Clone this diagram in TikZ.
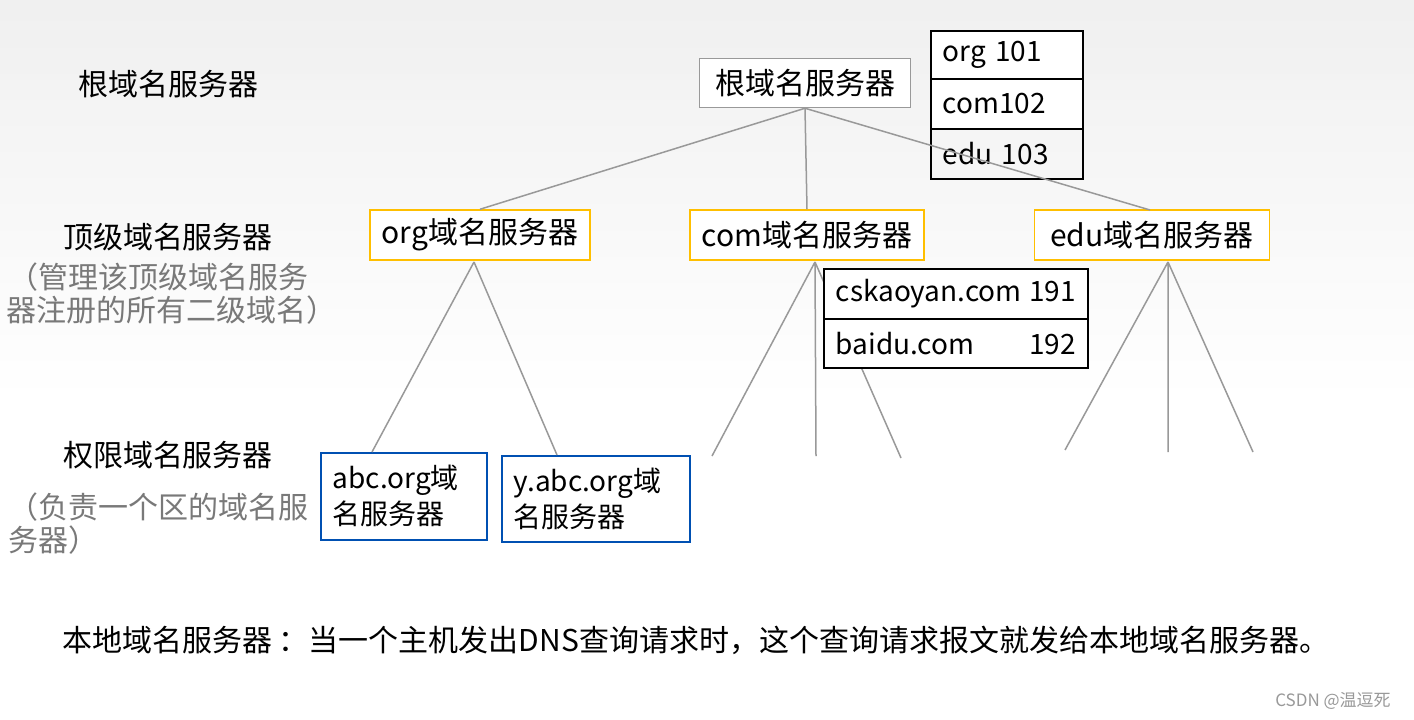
\documentclass[tikz,border=0pt]{standalone}
\usepackage{fontspec}
\setmainfont{Noto Sans CJK SC}
\begin{document}
\begin{tikzpicture}[x=1pt,y=-1pt,font=\fontsize{30}{36}\selectfont,
  lab/.style={anchor=center},
  glab/.style={anchor=west,text=gray!95!black,inner sep=0pt},
  root/.style={draw=gray!80,line width=1.5pt,fill=white,minimum width=211,minimum height=49,inner xsep=2pt},
  top/.style={draw=orange!50!yellow,line width=1.5pt,fill=white,minimum height=50,inner xsep=2pt},
  auth/.style={draw=blue!55!cyan!70!black,line width=1.5pt,fill=white,align=left,anchor=north west,inner xsep=12pt,inner ysep=4pt,text width=#1,font=\fontsize{28}{36}\selectfont},
  cell/.style={draw=black,line width=1.5pt,fill=white,anchor=north west,text width=#1,inner xsep=12pt,minimum height=50,font=\fontsize{28}{34}\selectfont},
  ln/.style={draw=gray!80,line width=1.5pt}]
\shade[top color=gray!12,bottom color=white] (0,0) rectangle (1414,400);
\fill[white] (0,400) rectangle (1414,720);
\useasboundingbox (0,0) rectangle (1414,720);
\node[lab] (l1) at (168,84) {根域名服务器};
\node[lab] (l2) at (168,237) {顶级域名服务器};
\node[glab] (g1) at (8,277) {（管理该顶级域名服务};
\node[glab] (g2) at (6,310) {器注册的所有二级域名）};
\node[lab] (l3) at (168,455) {权限域名服务器};
\node[glab] (g3) at (8,507) {（负责一个区的域名服};
\node[glab] (g4) at (8,540) {务器）};
\node[cell=128pt,minimum height=49] (t1) at (930,30) {org 101};
\node[cell=128pt,minimum height=50] (t2) at (930,78) {com102};
\node[cell=128pt,minimum height=50,fill=none] (t3) at (930,128) {edu 103};
\node[root] (r) at (805,83) {根域名服务器};
\node[top,minimum width=220] (org) at (480,235) {org域名服务器};
\node[top,minimum width=234] (com) at (807,235) {com域名服务器};
\node[top,minimum width=235] (edu) at (1152,235) {edu域名服务器};
\draw[ln] (r.south) -- (org.north);
\draw[ln] (r.south) -- (com.north);
\draw[ln] (r.south) -- (1150,210);
\coordinate (o0) at (474,262);
\node[auth=142pt,minimum width=166,minimum height=87] (abc) at (320,452) {abc.org域\\名服务器};
\node[auth=164pt,minimum width=188,minimum height=86] (yabc) at (501,455) {y.abc.org域\\名服务器};
\draw[ln] (o0) -- (372,452) (o0) -- (557,455);
\coordinate (c0) at (815,262);
\coordinate (c1) at (712,456); \coordinate (c2) at (816,456); \coordinate (c3) at (901,458);
\draw[ln] (c0) -- (c1) (c0) -- (c2) (c0) -- (c3);
\coordinate (e0) at (1168,262);
\coordinate (e1) at (1065,450); \coordinate (e2) at (1168,452); \coordinate (e3) at (1253,452);
\draw[ln] (e0) -- (e1) (e0) -- (e2) (e0) -- (e3);
\node[cell=240pt,minimum height=50] (s1) at (823,268) {cskaoyan.com\hfill 191\hspace*{10pt}};
\node[cell=240pt,minimum height=49] (s2) at (823,318) {baidu.com\hfill 192\hspace*{10pt}};
\node[anchor=west,inner sep=0pt] (b) at (62,640) {本地域名服务器 ：当一个主机发出DNS查询请求时，这个查询请求报文就发给本地域名服务器。};
\node[text=gray!80,font=\fontsize{17}{20}\selectfont] (w) at (1333,701) {CSDN @温逗死};
\end{tikzpicture}
\end{document}
